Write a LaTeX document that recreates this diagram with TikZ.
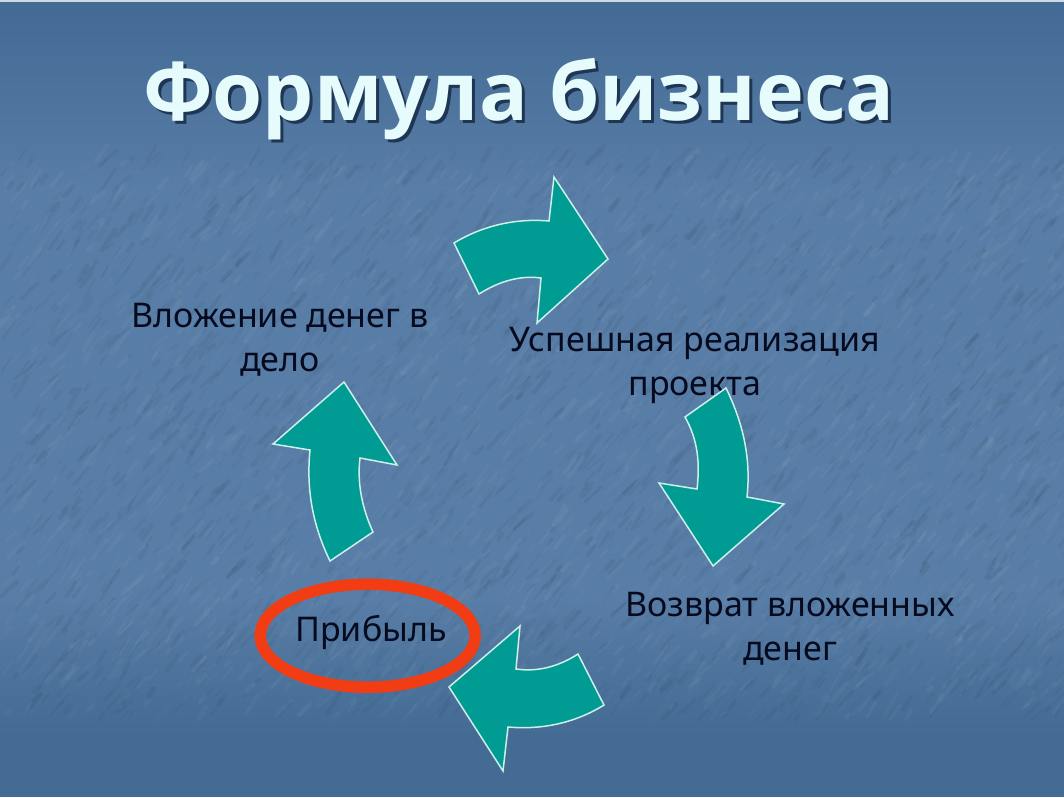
\documentclass[tikz,border=0pt]{standalone}
\usepackage{fontspec}
\setmainfont{Noto Sans}
\newfontfamily\titlefont{Open Sans}
\definecolor{bgtop}{HTML}{426A94}
\definecolor{bgmid}{HTML}{587DA6}
\definecolor{bgbot}{HTML}{436B93}
\definecolor{teal}{HTML}{009C94}
\definecolor{edge}{HTML}{CDEFEA}
\definecolor{ring}{HTML}{F23C14}
\definecolor{titlefill}{HTML}{E6FBFB}
\definecolor{titleshade}{HTML}{1E3654}
\definecolor{ink}{HTML}{050A1E}
\tikzset{
 x=1pt,y=-1pt,
 arrowshape/.style={draw=edge,line width=1.5pt,fill=teal,line join=miter},
 label/.style={text=ink,font=\fontsize{34}{44}\selectfont,align=center,inner sep=0pt},
 titletext/.style={font=\titlefont\fontsize{81}{85}\selectfont\bfseries,inner sep=0pt},
 fleck/.style={line cap=round}
}
\begin{document}
\begin{tikzpicture}
\useasboundingbox (0,0) rectangle (1064,797);
\shade[top color=bgtop,bottom color=bgmid] (0,0) rectangle (1064,190);
\fill[bgmid] (0,189) rectangle (1064,600);
\shade[top color=bgmid,bottom color=bgbot] (0,599) rectangle (1064,735);
\fill[bgbot] (0,734) rectangle (1064,797);
\fill[white!75!bgtop] (0,0) rectangle (1064,2.5);
% mottled paper texture
\begin{scope}
\clip (0,0) rectangle (1064,797);
\pgfmathsetseed{4217}
\foreach \i in {1,...,4200}{
 \pgfmathsetmacro{\px}{random(0,1064)}
 \pgfmathsetmacro{\py}{160+random(0,560)}
 \pgfmathsetmacro{\len}{5+random(0,20)}
 \pgfmathsetmacro{\ang}{40+random(0,20)}
 \pgfmathsetmacro{\dx}{\len*cos(\ang)}
 \pgfmathsetmacro{\dy}{-\len*sin(\ang)}
 \pgfmathsetmacro{\op}{0.02+0.05*rnd}
 \pgfmathsetmacro{\lw}{1+4*rnd}
 \pgfmathparse{int(mod(\i,2))}
 \ifnum\pgfmathresult=0
  \draw[fleck,black!70!bgtop,opacity=\op,line width=\lw pt] (\px,\py) -- ++(\dx,\dy);
 \else
  \draw[fleck,white!65!bgmid,opacity=\op,line width=\lw pt] (\px,\py) -- ++(\dx,\dy);
 \fi
}
\end{scope}
\node[titletext,text=titleshade] (titleshadow) at (522,102) {Формула бизнеса};
\node[titletext,text=titlefill] (title) at (519,99) {Формула бизнеса};
\draw[arrowshape] (454,243) .. controls (482,226) and (515,218) .. (549,221) -- (554,177) -- (608,259) -- (537,323) -- (541,278) .. controls (519,275) and (498,282) .. (479,294) -- cycle;
\node[label] (project) at (695,365) {Успешная реализация\\проекта};
\draw[arrowshape] (685,417) -- (726,388) .. controls (744,425) and (751,460) .. (747,497) -- (784,504) -- (713,566) -- (659,483) -- (697,489) .. controls (700,463) and (698,440) .. (685,417) -- cycle;
\node[label] (return) at (790,629) {Возврат вложенных\\денег};
\draw[arrowshape] (578,654) -- (604,705) .. controls (575,723) and (542,730) .. (508,727) -- (503,771) -- (449,687) -- (520,626) -- (516,669) .. controls (537,672) and (558,667) .. (578,654) -- cycle;
\draw[ring,line width=11.5pt] (367.7,635.7) ellipse [x radius=107.5pt,y radius=51.5pt];
\node[label] (profit) at (371,632) {Прибыль};
\draw[arrowshape] (330,561) -- (373,532) .. controls (362,508) and (357,483) .. (360,458) -- (397,465) -- (344,382) -- (273,444) -- (310,450) .. controls (306,490) and (313,526) .. (330,561) -- cycle;
\node[label] (invest) at (280,340) {Вложение денег в\\дело};
\end{tikzpicture}
\end{document}
